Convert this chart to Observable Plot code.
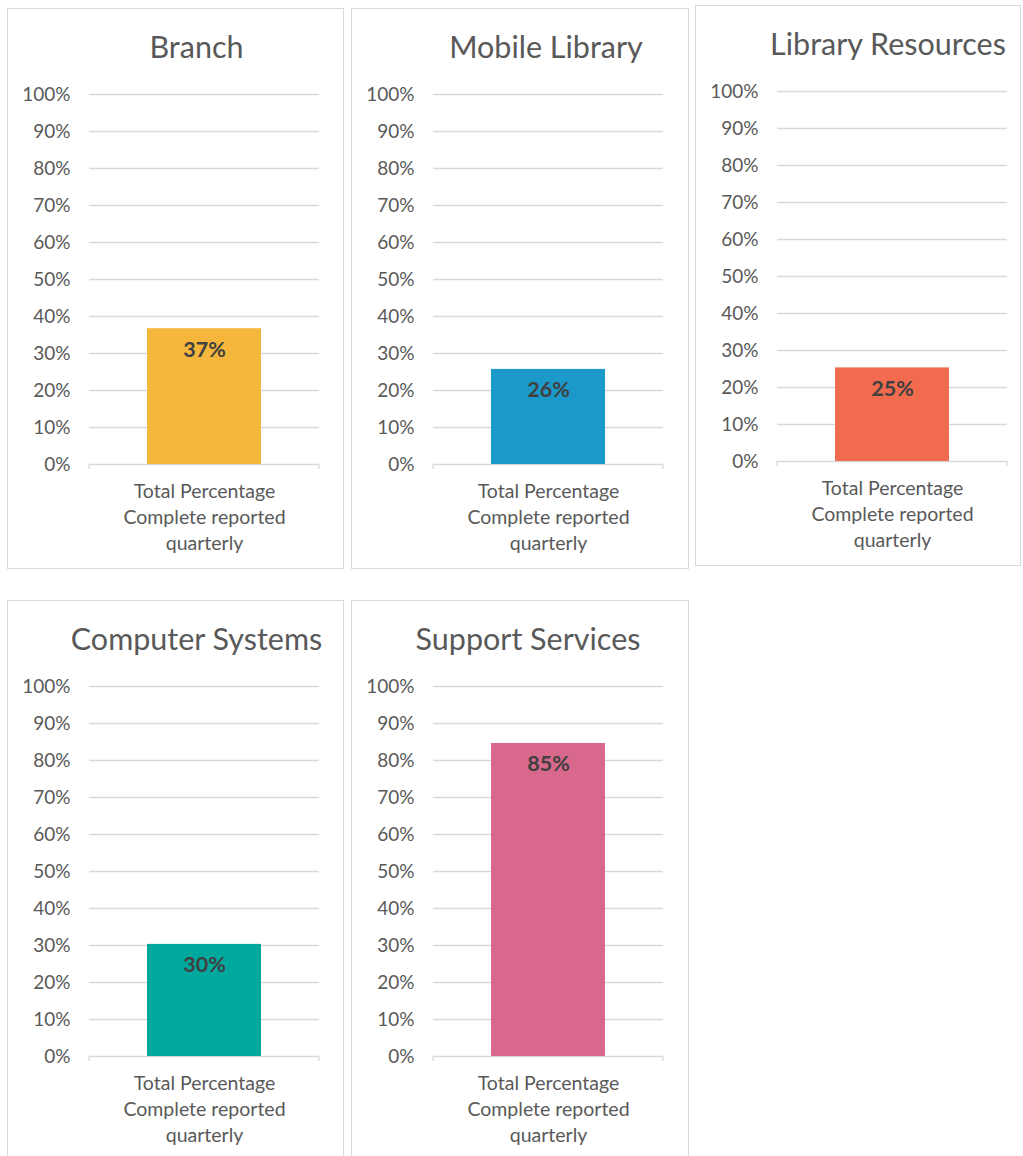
<!DOCTYPE html>
<html>
<head>
<meta charset="utf-8">
<script src="https://cdn.jsdelivr.net/npm/d3@7"></script>
<script src="https://cdn.jsdelivr.net/npm/@observablehq/plot@0.6"></script>
<style>
  html, body { margin: 0; padding: 0; background: #fff; overflow: hidden; }
  body { width: 1023px; height: 1156px; position: relative; font-family: Lato, "Open Sans", sans-serif; }
  .panel { position: absolute; }
  .frame { position: absolute; left: 0; top: 0; right: 0; bottom: 0; border: 1.5px solid #d9d9d9; box-sizing: border-box; }
  .title { position: absolute; left: 0; right: 0; text-align: center; font-size: 30.5px; color: #595959; white-space: nowrap; }
  .panel svg { position: absolute; left: 0; top: 0; }
</style>
</head>
<body>
<div id="root"></div>
<script>
// ---- data ----
const titles = ["Branch", "Mobile Library", "Library Resources", "Computer Systems", "Support Services"];
const values = [0.367, 0.257, 0.253, 0.303, 0.846];
const colors = ["#F5B73B", "#1B99C9", "#F26B4F", "#00A99D", "#D9688D"];
const category = "Total Percentage Complete reported quarterly";
const categoryLines = ["Total Percentage", "Complete reported", "quarterly"];
const yTicks = [0, 0.1, 0.2, 0.3, 0.4, 0.5, 0.6, 0.7, 0.8, 0.9, 1.0];

// ---- layout ----
const panelLeft = [7, 351, 695, 7, 351];
const panelTop = [8, 8, 5, 600, 600];
const panelWidth = [337, 338, 326, 337, 338];
const titleShift = [0, 5, 9, 0, -13];
const panelHeight = 561;

const root = document.getElementById("root");
const pct = d3.format(".0%");

titles.forEach((title, i) => {
  const W = panelWidth[i];
  const panel = document.createElement("div");
  panel.className = "panel";
  panel.style.left = panelLeft[i] + "px";
  panel.style.top = panelTop[i] + "px";
  panel.style.width = W + "px";
  panel.style.height = panelHeight + "px";

  const frame = document.createElement("div");
  frame.className = "frame";
  panel.appendChild(frame);

  const t = document.createElement("div");
  t.className = "title";
  t.textContent = title;
  t.style.top = "20px";
  t.style.paddingLeft = (42 + 2 * titleShift[i]) + "px";
  panel.appendChild(t);

  const rows = [{cat: category, v: values[i]}];

  const endTicks = (index, scales, vals, dims) => {
    const g = d3.create("svg:g");
    const y0 = scales.y(0);
    [dims.marginLeft, dims.width - dims.marginRight].forEach(x => {
      g.append("line").attr("x1", x).attr("x2", x).attr("y1", y0).attr("y2", y0 + 5)
        .attr("stroke", "#d9d9d9").attr("stroke-width", 1.3);
    });
    return g.node();
  };

  const chart = Plot.plot({
    width: W,
    height: panelHeight,
    marginTop: 86,
    marginBottom: 105,
    marginLeft: 82,
    marginRight: W - 312,
    style: {fontFamily: "Lato, 'Open Sans', sans-serif", color: "#595959", background: "transparent", overflow: "visible"},
    x: {domain: [category], padding: 0.337, axis: null},
    y: {domain: [0, 1], axis: null},
    marks: [
      Plot.ruleY(yTicks, {stroke: "#d9d9d9", strokeWidth: 1.3}),
      endTicks,
      Plot.axisY(yTicks, {tickFormat: pct, tickSize: 0, tickPadding: 19, fontSize: 19, fill: "#595959", label: null}),
      Plot.barY(rows, {x: "cat", y: "v", fill: colors[i]}),
      Plot.text(rows, {x: "cat", y: "v", text: d => pct(d.v), dy: 21, fontSize: 21.5, fontWeight: "bold", fill: "#404040"}),
      Plot.text(rows, {x: "cat", frameAnchor: "bottom", lineAnchor: "top", dy: 15, text: () => categoryLines.join("\n"), lineHeight: 1.33, fontSize: 19.5, fill: "#595959"})
    ]
  });
  panel.appendChild(chart);
  root.appendChild(panel);
});
</script>
</body>
</html>
